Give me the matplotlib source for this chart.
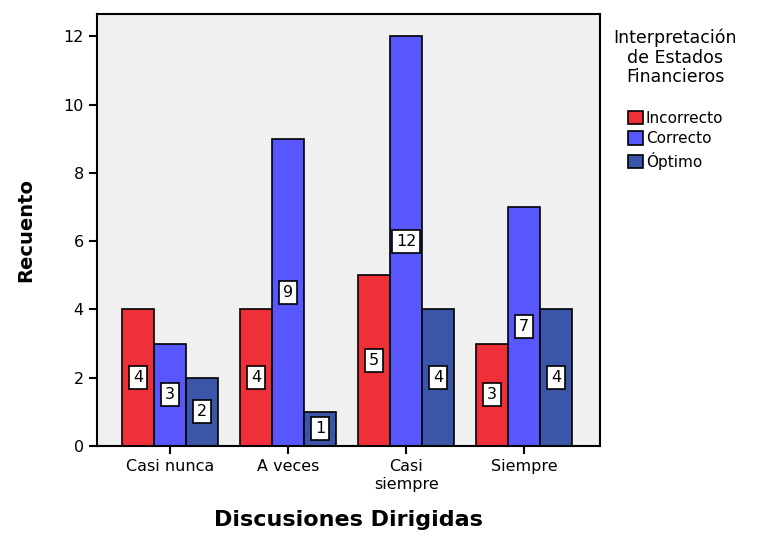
import numpy as np
import matplotlib.pyplot as plt
from matplotlib.patches import Patch

# Data
categories = ["Casi nunca", "A veces", "Casi\nsiempre", "Siempre"]
series_names = ["Incorrecto", "Correcto", "Óptimo"]
incorrecto = [4, 4, 5, 3]
correcto = [3, 9, 12, 7]
optimo = [2, 1, 4, 4]

colors = ["#ef3039", "#5757fd", "#3b56a8"]

fig = plt.figure(figsize=(7.72, 5.39), dpi=100)
ax = fig.add_axes([0.1256, 0.1725, 0.6514, 0.8015])
ax.set_facecolor("#f0f0f0")

x = np.arange(len(categories))
width = 0.272
for i, (vals, col) in enumerate(zip([incorrecto, correcto, optimo], colors)):
    pos = x + (i - 1) * width
    ax.bar(pos, vals, width, color=col, edgecolor="black", linewidth=1.2, zorder=2)
    for p, v in zip(pos, vals):
        ax.text(p, v / 2, str(v), ha="center", va="center", fontsize=11.5,
                bbox=dict(boxstyle="square,pad=0.25", fc="white", ec="black", lw=1.2),
                zorder=3)

ax.set_xlim(-0.62, 3.64)
ax.set_ylim(0, 12.65)
ax.set_yticks([0, 2, 4, 6, 8, 10, 12])
ax.set_xticks(x)
ax.set_xticklabels(categories, fontsize=11.5, linespacing=1.25)
ax.tick_params(axis="y", labelsize=11.5, length=6, width=1.5)
ax.tick_params(axis="x", length=6, width=1.5)
for s in ax.spines.values():
    s.set_linewidth(1.5)

ax.set_xlabel("Discusiones Dirigidas", fontsize=16, fontweight="bold", labelpad=13)
ax.set_ylabel("Recuento", fontsize=14, fontweight="bold", labelpad=20)

handles = [Patch(facecolor=c, edgecolor="black", linewidth=1.2) for c in colors]
leg = fig.legend(handles, series_names, title="Interpretación\nde Estados\nFinancieros\n",
                 loc="upper left", bbox_to_anchor=(0.787, 0.958), frameon=False,
                 fontsize=11, title_fontsize=12.5, handlelength=1.0, handleheight=1.0,
                 handletextpad=0.2, labelspacing=0.35, borderaxespad=0)
leg.get_title().set_multialignment("center")
leg.get_title().set_linespacing(1.1)

fig.savefig("out.png", dpi=100)
